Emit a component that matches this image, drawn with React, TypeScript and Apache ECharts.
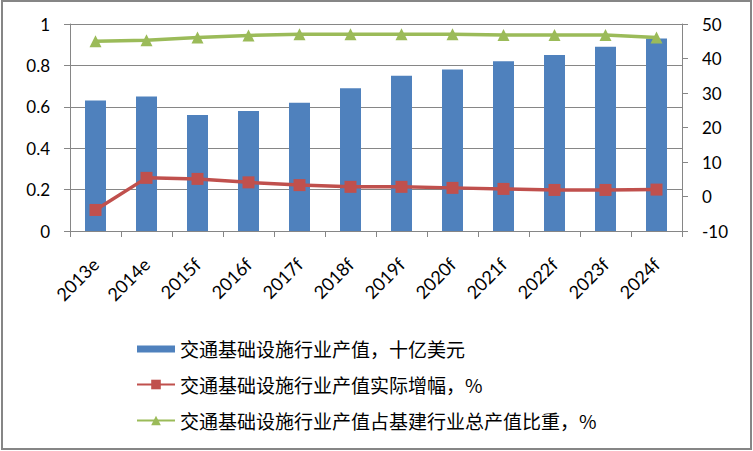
import React, { useEffect, useRef } from "react";
import * as echarts from "echarts";

const categories = ["2013e", "2014e", "2015f", "2016f", "2017f", "2018f", "2019f", "2020f", "2021f", "2022f", "2023f", "2024f"];
const outputValue = [0.63, 0.65, 0.56, 0.58, 0.62, 0.69, 0.75, 0.78, 0.82, 0.85, 0.89, 0.93];
const realGrowth = [-3.9, 5.4, 5.1, 4.1, 3.3, 2.8, 2.8, 2.5, 2.2, 1.9, 1.9, 2.0];
const shareOfTotal = [45.0, 45.3, 46.1, 46.7, 47.0, 47.0, 47.0, 47.0, 46.8, 46.8, 46.8, 46.1];
const seriesNames = [
  "交通基础设施行业产值，十亿美元",
  "交通基础设施行业产值实际增幅，%",
  "交通基础设施行业产值占基建行业总产值比重，%",
];

const AXIS_COLOR = "#868686";
const LATIN = "Lato, 'Liberation Sans', sans-serif";

export default function App() {
  const ref = useRef<HTMLDivElement>(null);
  useEffect(() => {
    if (!ref.current) return;
    const chart = echarts.init(ref.current, undefined, { renderer: "svg" });
    chart.setOption({
      animation: false,
      backgroundColor: "#ffffff",
      grid: { left: 70, right: 71, top: 24, bottom: 220 },
      legend: {
        orient: "vertical",
        left: 131,
        top: 334,
        itemWidth: 38,
        itemHeight: 12,
        itemGap: 17,
        textStyle: { fontFamily: "'Noto Sans CJK SC', sans-serif", fontSize: 19, color: "#000" },
        data: [
          { name: seriesNames[0], icon: "path://M0,0 L0.01,0 M0,3 L38,3 L38,10 L0,10 Z M38,12 L37.99,12" },
          { name: seriesNames[1] },
          { name: seriesNames[2] },
        ],
      },
      xAxis: {
        type: "category",
        data: categories,
        axisLine: { lineStyle: { color: AXIS_COLOR, width: 1 } },
        axisTick: { show: true, length: 6, lineStyle: { color: AXIS_COLOR } },
        axisLabel: { rotate: 45, margin: 30, fontSize: 18, color: "#000", fontFamily: LATIN, interval: 0 },
      },
      yAxis: [
        {
          type: "value",
          min: 0,
          max: 1,
          interval: 0.2,
          axisLine: { show: true, lineStyle: { color: AXIS_COLOR } },
          axisTick: { show: true, length: 6, lineStyle: { color: AXIS_COLOR } },
          splitLine: { show: true, lineStyle: { color: AXIS_COLOR, width: 1 } },
          axisLabel: { margin: 20, fontSize: 17, color: "#000", fontFamily: LATIN },
        },
        {
          type: "value",
          min: -10,
          max: 50,
          interval: 10,
          position: "right",
          axisLine: { show: true, lineStyle: { color: AXIS_COLOR } },
          axisTick: { show: true, length: 6, lineStyle: { color: AXIS_COLOR } },
          splitLine: { show: false },
          axisLabel: { margin: 20, fontSize: 17, color: "#000", fontFamily: LATIN },
        },
      ],
      series: [
        {
          name: seriesNames[0],
          type: "bar",
          data: outputValue,
          barWidth: 21,
          itemStyle: { color: "#4F81BD" },
          yAxisIndex: 0,
        },
        {
          name: seriesNames[1],
          type: "line",
          data: realGrowth,
          yAxisIndex: 1,
          symbol: "rect",
          symbolSize: 12,
          lineStyle: { color: "#C0504D", width: 3.5 },
          itemStyle: { color: "#C0504D" },
        },
        {
          name: seriesNames[2],
          type: "line",
          data: shareOfTotal,
          yAxisIndex: 1,
          symbol: "triangle",
          symbolSize: 12,
          lineStyle: { color: "#9BBB59", width: 3.5 },
          itemStyle: { color: "#9BBB59" },
        },
      ],
      graphic: [
        {
          type: "rect",
          shape: { x: 2, y: 1, width: 749, height: 448 },
          style: { fill: "none", stroke: AXIS_COLOR, lineWidth: 2 },
          silent: true,
        },
      ],
    });
    return () => chart.dispose();
  }, []);
  return <div ref={ref} style={{ position: "fixed", left: 0, top: 0, width: 753, height: 451 }} />;
}
